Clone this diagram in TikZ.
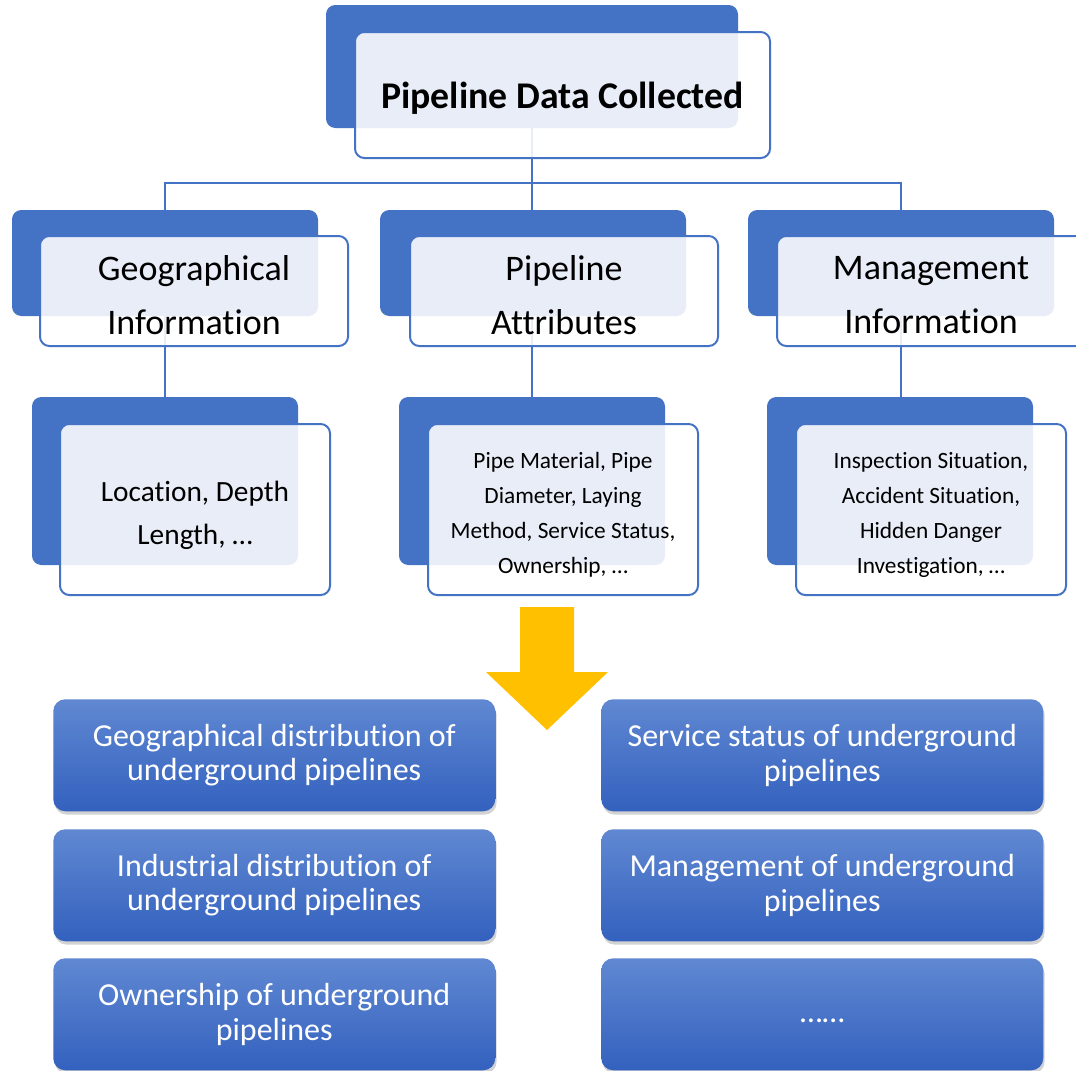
\documentclass[tikz,border=0pt]{standalone}
\usepackage{fontspec}
\setmainfont{Carlito}[Ligatures=NoCommon]
\usetikzlibrary{shadows}
\definecolor{sblue}{HTML}{4472C4}
\definecolor{gtop}{HTML}{6088D2}
\definecolor{gbot}{HTML}{3361BE}
\definecolor{arrowy}{HTML}{FFC000}
\pgfdeclarelayer{bg}
\pgfsetlayers{bg,main}
\begin{document}
\begin{tikzpicture}[x=0.75pt,y=-0.75pt,
  backbox/.style={fill=sblue, rounded corners=7pt, inner sep=0pt, outer sep=0pt, anchor=north west, draw=none},
  frontbox/.style={draw=sblue, line width=1.5pt, fill=white, fill opacity=0.88, rounded corners=7pt, inner sep=0pt, outer sep=0pt, anchor=north west},
  boxtext/.style={align=center, text=black, inner sep=0pt},
  conn/.style={draw=sblue, line width=1.6pt},
  resbox/.style={rounded corners=9pt, top color=gtop, bottom color=gbot, inner sep=0pt, anchor=north west, align=center, text=white,
     minimum width=331.5pt, minimum height=84pt, font=\fontsize{24}{26}\selectfont,
     drop shadow={opacity=0.35, shadow xshift=1pt, shadow yshift=-2.5pt}},
  lvtwo/.style={minimum width=231pt, minimum height=82.5pt},
  lvthree/.style={minimum width=202.5pt, minimum height=128.25pt},
  twotext/.style={boxtext, font=\fontsize{27}{40}\selectfont, yshift=-3pt},
  smalltext/.style={boxtext, font=\fontsize{17.5}{26.3}\selectfont, yshift=-4pt}
]
\useasboundingbox (0,0) rectangle (1076,1071);
\clip (0,0) rectangle (1076,1071);

% top
\node[backbox, minimum width=309pt, minimum height=92.25pt] (tb) at (326,5) {};
\node[frontbox, minimum width=311.25pt, minimum height=94.5pt] (tf) at (355,32) {};
\node[boxtext, font=\fontsize{28.3}{32}\selectfont\bfseries, yshift=-2.5pt] (tft) at (tf.center) {Pipeline Data Collected};

% level 2
\node[backbox, minimum width=229.5pt, minimum height=79.5pt] (gb) at (12,210) {};
\node[backbox, minimum width=229.5pt, minimum height=79.5pt] (pb) at (380,210) {};
\node[backbox, minimum width=229.5pt, minimum height=79.5pt] (mb) at (748,210) {};
\node[frontbox, lvtwo] (gf) at (40,236) {};
\node[frontbox, lvtwo] (pf) at (410,236) {};
\node[frontbox, lvtwo] (mf) at (777,236) {};
\node[twotext] (gft) at (gf.center) {Geographical\\Information};
\node[twotext] (pft) at (pf.center) {Pipeline\\Attributes};
\node[twotext] (mft) at (mf.center) {Management\\Information};

% level 3
\node[backbox, minimum width=199.5pt, minimum height=126pt] (gb3) at (32,397) {};
\node[backbox, minimum width=199.5pt, minimum height=126pt] (pb3) at (399,397) {};
\node[backbox, minimum width=199.5pt, minimum height=126pt] (mb3) at (767,397) {};
\node[frontbox, lvthree] (gf3) at (60,424) {};
\node[frontbox, lvthree] (pf3) at (428,424) {};
\node[frontbox, lvthree] (mf3) at (796,424) {};
\node[boxtext, font=\fontsize{22}{32}\selectfont, yshift=-4.5pt] (gf3t) at (gf3.center) {Location, Depth\\Length, …};
\node[smalltext] (pf3t) at (pf3.center) {Pipe Material, Pipe\\Diameter, Laying\\Method, Service Status,\\Ownership, …};
\node[smalltext] (mf3t) at (mf3.center) {Inspection Situation,\\Accident Situation,\\Hidden Danger\\Investigation, …};

% connectors
\begin{pgfonlayer}{bg}
\fill[white] (0,0) rectangle (1076,1071);
\coordinate (bar) at (tb.south |- 0,183);
\draw[conn] (tb.south) -- (bar);
\draw[conn] (gb.north) |- (bar);
\draw[conn] (bar) -| (mb.north);
\draw[conn] (bar) -- (bar |- pb.north);
\draw[conn] (gb.south) -- (gb.south |- gb3.north);
\draw[conn] (pb3.north |- pb.south) -- (pb3.north);
\draw[conn] (mb.south) -- (mb.south |- mb3.north);
\end{pgfonlayer}

% arrow
\fill[arrowy] (520,607) -- (574,607) -- (574,672) -- (608,672) -- (547,730) -- (486,672) -- (520,672) -- cycle;

% result boxes
\node[resbox] (r1) at (53,699) {Geographical distribution of\\underground pipelines};
\node[resbox] (r2) at (601,699) {Service status of underground\\pipelines};
\node[resbox] (r3) at (53,829) {Industrial distribution of\\underground pipelines};
\node[resbox] (r4) at (601,829) {Management of underground\\pipelines};
\node[resbox] (r5) at (53,958) {Ownership of underground\\pipelines};
\node[resbox] (r6) at (601,958) {\raisebox{-12pt}{……}};
\end{tikzpicture}
\end{document}
